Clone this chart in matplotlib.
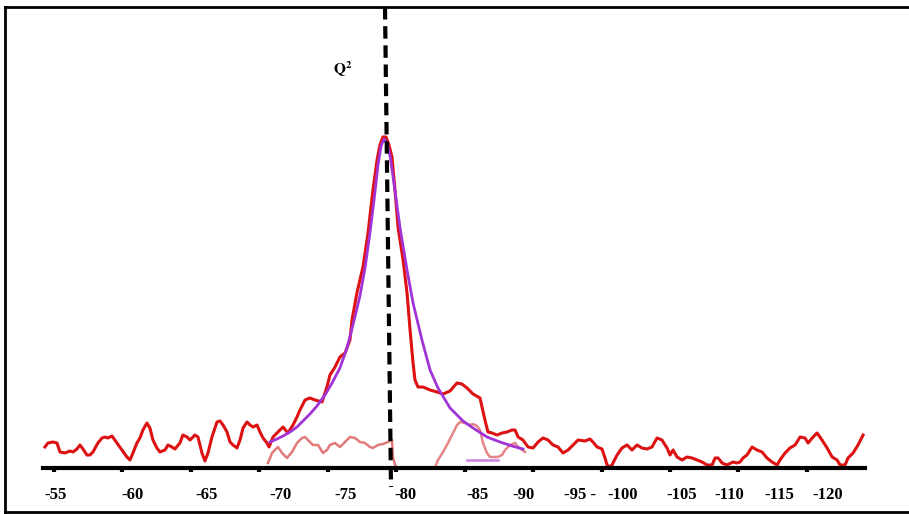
import matplotlib
matplotlib.use("Agg")
import matplotlib.pyplot as plt
from matplotlib.lines import Line2D

plt.rcParams['font.family'] = ['Liberation Serif', 'DejaVu Serif']
plt.rcParams['mathtext.fontset'] = 'stix'

# measured spectrum (ppm, a.u.)
ppm_exp = [-54.34, -54.56, -54.93, -55.22, -55.44, -55.80, -56.17, -56.39, -56.68, -56.90,
           -57.12, -57.41, -57.63, -57.85, -58.21, -58.51, -58.73, -58.94, -59.24, -59.60,
           -59.97, -60.33, -60.55, -60.77, -61.06, -61.28, -61.50, -61.79, -62.01, -62.23,
           -62.52, -62.74, -63.11, -63.33, -63.62, -63.84, -64.20, -64.42, -64.72, -64.94,
           -65.30, -65.52, -65.81, -66.03, -66.25, -66.54, -66.91, -67.13, -67.35, -67.64,
           -67.86, -68.08, -68.37, -68.59, -68.81, -69.10, -69.32, -69.54, -69.83, -70.05,
           -70.27, -70.56, -70.71, -71.00, -71.36, -71.73, -72.09, -72.46, -72.75, -72.97,
           -73.34, -73.70, -74.07, -74.58, -74.94, -75.16, -75.53, -75.89, -76.26, -76.62,
           -76.77, -77.13, -77.35, -77.57, -77.94, -78.30, -78.60, -78.81, -79.03, -79.25,
           -79.47, -79.69, -79.91, -80.13, -80.50, -80.79, -81.01, -81.23, -81.37, -81.59,
           -81.96, -82.47, -82.98, -83.42, -83.93, -84.44, -84.80, -85.17, -85.61, -86.12,
           -86.48, -86.70, -87.00, -87.36, -87.73, -88.09, -88.46, -88.68, -88.90, -89.26,
           -89.63, -89.99, -90.36, -90.72, -91.09, -91.45, -91.82, -92.18, -92.55, -92.91,
           -93.28, -93.79, -94.15, -94.37, -94.67, -95.03, -95.25, -95.40, -95.61, -95.76,
           -96.13, -96.49, -96.86, -97.22, -97.59, -97.95, -98.32, -98.68, -99.05, -99.41,
           -99.78, -100.00, -100.22, -100.51, -100.88, -101.24, -101.61, -101.97, -102.34, -102.70,
           -103.07, -103.29, -103.51, -103.80, -104.16, -104.60, -104.89, -105.11, -105.33, -105.62,
           -105.99, -106.35, -106.72, -107.08, -107.45, -107.82, -108.03, -108.40, -108.76, -109.13,
           -109.50, -109.86, -110.08, -110.45, -110.74, -111.10, -111.47, -111.84, -112.20, -112.42,
           -112.78, -113.00, -113.37, -113.73, -114.10]
int_exp = [21, 25, 26, 25, 16, 15, 17, 16, 19, 23,
           19, 13, 13, 16, 25, 30, 31, 30, 32, 25,
           18, 11, 8, 15, 25, 30, 38, 45, 40, 28,
           20, 16, 18, 23, 21, 19, 25, 33, 31, 28,
           33, 31, 15, 7, 15, 31, 46, 47, 43, 36,
           26, 23, 20, 28, 40, 46, 43, 41, 43, 36,
           30, 25, 21, 31, 36, 41, 35, 43, 51, 58,
           68, 70, 68, 66, 81, 93, 101, 111, 115, 128,
           148, 175, 188, 201, 235, 278, 308, 323, 331, 331,
           323, 311, 278, 241, 208, 175, 138, 105, 88, 81,
           81, 78, 76, 74, 77, 85, 84, 80, 74, 70,
           48, 36, 35, 33, 35, 36, 38, 38, 31, 28,
           21, 20, 26, 30, 28, 23, 21, 15, 18, 23,
           28, 27, 29, 26, 21, 19, 10, 3, 1, 3,
           13, 20, 23, 18, 23, 20, 19, 21, 30, 28,
           20, 13, 18, 11, 8, 11, 10, 8, 6, 3,
           3, 10, 10, 5, 3, 6, 5, 6, 10, 13,
           21, 18, 16, 10, 6, 3, 8, 15, 20, 23,
           31, 30, 25, 31, 35, 28, 20, 11, 8, 3,
           3, 10, 15, 23, 33]

# Lorentzian fit
ppm_fit = [-70.78, -71.29, -71.73, -72.24, -72.75, -73.19, -73.70, -74.21, -74.80, -75.31,
           -75.89, -76.40, -76.84, -77.35, -77.72, -78.08, -78.38, -78.67, -78.89, -79.11,
           -79.33, -79.55, -79.76, -80.06, -80.28, -80.79, -81.23, -81.88, -82.47, -83.05,
           -83.93, -84.88, -85.61, -86.63, -87.58, -88.46, -89.26]
int_fit = [26, 29, 32, 36, 41, 47, 54, 62, 73, 85,
           100, 120, 143, 172, 200, 235, 268, 303, 322, 329,
           325, 312, 292, 262, 240, 198, 165, 128, 98, 80,
           60, 47, 40, 31, 26, 22, 19]

# residual components
ppm_res1 = [-70.63, -70.93, -71.14, -71.36, -71.66, -72.02, -72.39, -72.75, -73.12, -73.34,
            -73.55, -73.92, -74.29, -74.65, -74.94, -75.16, -75.53, -75.89, -76.26, -76.62,
            -76.99, -77.35, -77.72, -78.08, -78.30, -78.67, -79.03, -79.40, -79.69, -79.76, -79.98]
int_res1 = [5, 15, 18, 21, 15, 10, 16, 25, 30, 31,
            28, 23, 23, 15, 18, 23, 25, 21, 26, 31,
            30, 26, 25, 21, 20, 23, 24, 26, 28, 11, 0]
ppm_res2 = [-82.83, -83.05, -83.42, -83.78, -84.15, -84.44, -84.66, -85.02, -85.39, -85.61,
            -85.90, -86.12, -86.34, -86.63, -86.85, -87.07, -87.43, -87.73, -87.95, -88.31,
            -88.68, -88.90, -89.19, -89.41]
int_res2 = [0, 8, 16, 25, 35, 43, 46, 45, 43, 44,
            42, 38, 25, 15, 11, 11, 11, 13, 18, 23,
            25, 21, 18, 16]
ppm_flat = [-85.17, -87.43]
int_flat = [8, 8]

q2_ppm = [-79.18, -79.62]
tick_pos = [-55, -60, -65, -70, -75, -80, -85, -90, -95, -100, -105, -110]
label_txt = ["-55", "-60", "-65", "-70", "-75", "-80", "-85", "-90", "-95 -", "-100",
             "-105", "-110", "-115", "-120"]
label_pos = [-55.15, -60.77, -66.18, -71.58, -76.33, -80.64, -85.90, -89.33, -93.42, -96.56,
             -100.88, -104.31, -107.96, -111.54]

fig = plt.figure(figsize=(9.09, 5.14), dpi=100)
ax = fig.add_axes([0.0473, 0.0895, 0.9043, 0.8969])

ax.plot(ppm_exp, int_exp, color='#dd1111', lw=2.2, zorder=2)
ax.plot(ppm_res1, int_res1, color='#e27a7a', lw=1.8, zorder=2)
ax.plot(ppm_res2, int_res2, color='#e58585', lw=1.8, zorder=2)
ax.plot(ppm_flat, int_flat, color='#cc80e0', lw=1.8, zorder=2)
ax.plot(ppm_fit, int_fit, color='#a233d6', lw=2.0, zorder=3)
ax.plot(q2_ppm, [461, -19], color='black', lw=3, ls=(0, (3, 1.6)), zorder=4, clip_on=False)
ax.text(-76.11, 399, r'$\mathbf{Q^{2}}$', ha='center', va='center', fontsize=11)

ax.set_xlim(-54.20, -114.24)
ax.set_ylim(0, 461)
for s in ['top', 'left', 'right']:
    ax.spines[s].set_visible(False)
ax.spines['bottom'].set_linewidth(3)
ax.set_yticks([])
ax.set_xticks(tick_pos, minor=True)
ax.set_xticks(label_pos, label_txt)
ax.tick_params(axis='x', which='major', length=0, pad=14, labelsize=12)
ax.tick_params(axis='x', which='minor', length=3, width=3, direction='out')
for t in ax.get_xticklabels():
    t.set_fontweight('bold')

# frame round the picture
fig.add_artist(Line2D([0.0055, 1.0], [0.9864, 0.9864], color='black', lw=2))
fig.add_artist(Line2D([0.0055, 0.0055], [0.0039, 0.9864], color='black', lw=2))
fig.add_artist(Line2D([0.0055, 1.0], [0.0039, 0.0039], color='black', lw=2))

plt.savefig('out.png', dpi=100)
